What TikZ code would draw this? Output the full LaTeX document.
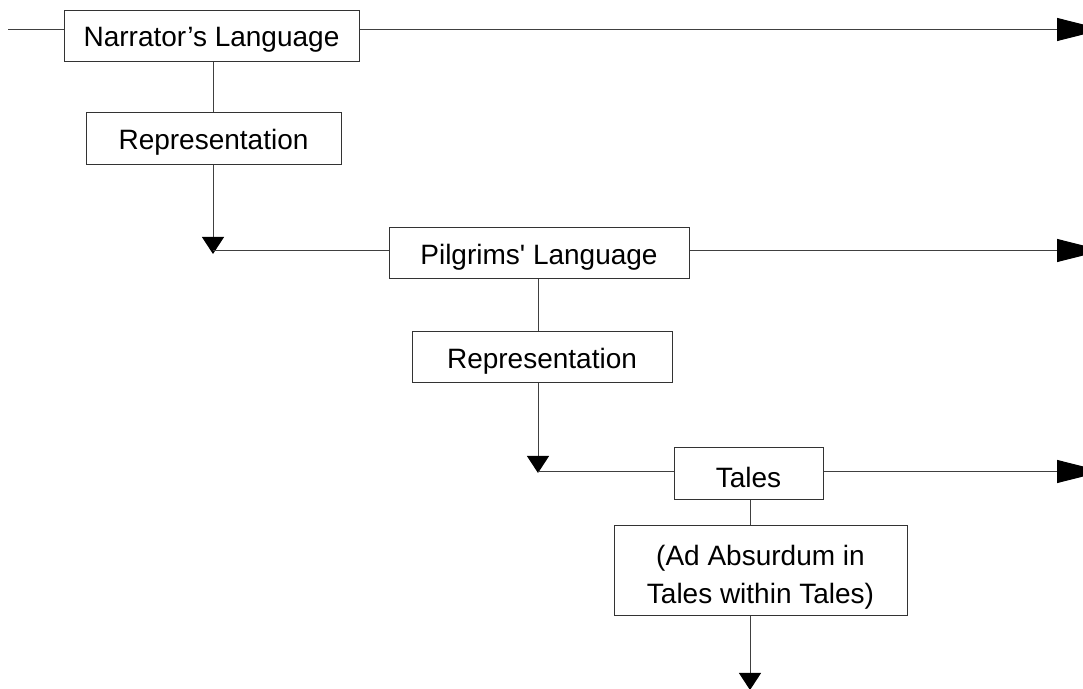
\documentclass[tikz,border=0pt]{standalone}
\usepackage{fontspec}
\setmainfont{Liberation Sans}
\usetikzlibrary{arrows.meta}
\newcommand\lowtxt[2]{\raisebox{-#1}[\height][\depth]{#2}}
\begin{document}
\begin{tikzpicture}[x=0.5pt,y=-0.5pt,
  box/.style={draw=black!80, line width=0.5pt, fill=white, inner sep=0pt, align=center, font=\fontsize{14}{19}\selectfont},
  conn/.style={draw=black!75, line width=0.5pt},
  arr/.style={conn, -{Triangle[length=8.5pt,width=11pt,color=black]}},
  rarr/.style={conn, -{Triangle[length=23pt,width=11.5pt,color=black]}}]
\useasboundingbox (0,0) rectangle (1083,689);
\clip (0,0) rectangle (1083,689);
\node[box, minimum width=147.5pt, minimum height=25.5pt] (nar) at (211.5,36.5) {\lowtxt{1.75pt}{Narrator’s Language}};
\node[box, minimum width=127.5pt, minimum height=26pt] (rep1) at (213.5,139) {\lowtxt{1.75pt}{Representation}};
\node[box, minimum width=150pt, minimum height=25.5pt] (pil) at (539,253.5) {\lowtxt{1.75pt}{Pilgrims\textquotesingle\ Language}};
\node[box, minimum width=130pt, minimum height=25.5pt] (rep2) at (542,357.5) {\lowtxt{1.75pt}{Representation}};
\node[box, minimum width=74.5pt, minimum height=26pt] (tales) at (748.5,474) {\lowtxt{1.75pt}{Tales}};
\node[box, minimum width=146.5pt, minimum height=45pt] (ad) at (760.5,570.5) {\lowtxt{3.25pt}{\begin{tabular}{@{}c@{}}(Ad Absurdum in\\Tales within Tales)\end{tabular}}};
\coordinate (s1) at (8,29.5);
\coordinate (e1) at (1103,29.5);
\coordinate (a1) at (213,254);
\coordinate (h1) at (213,250.5);
\coordinate (e2) at (1103,250.5);
\coordinate (a2) at (538,473);
\coordinate (h2) at (538,471.5);
\coordinate (e3) at (1103,471.5);
\coordinate (a3) at (750,690);
\draw[conn] (s1) -- (s1 -| nar.west);
\draw[rarr] (s1 -| nar.east) -- (e1);
\draw[conn] (a1 |- nar.south) -- (a1 |- rep1.north);
\draw[arr] (a1 |- rep1.south) -- (a1);
\draw[conn] (h1) -- (h1 -| pil.west);
\draw[rarr] (h1 -| pil.east) -- (e2);
\draw[conn] (a2 |- pil.south) -- (a2 |- rep2.north);
\draw[arr] (a2 |- rep2.south) -- (a2);
\draw[conn] (h2) -- (h2 -| tales.west);
\draw[rarr] (h2 -| tales.east) -- (e3);
\draw[conn] (a3 |- tales.south) -- (a3 |- ad.north);
\draw[arr] (a3 |- ad.south) -- (a3);
\end{tikzpicture}
\end{document}
